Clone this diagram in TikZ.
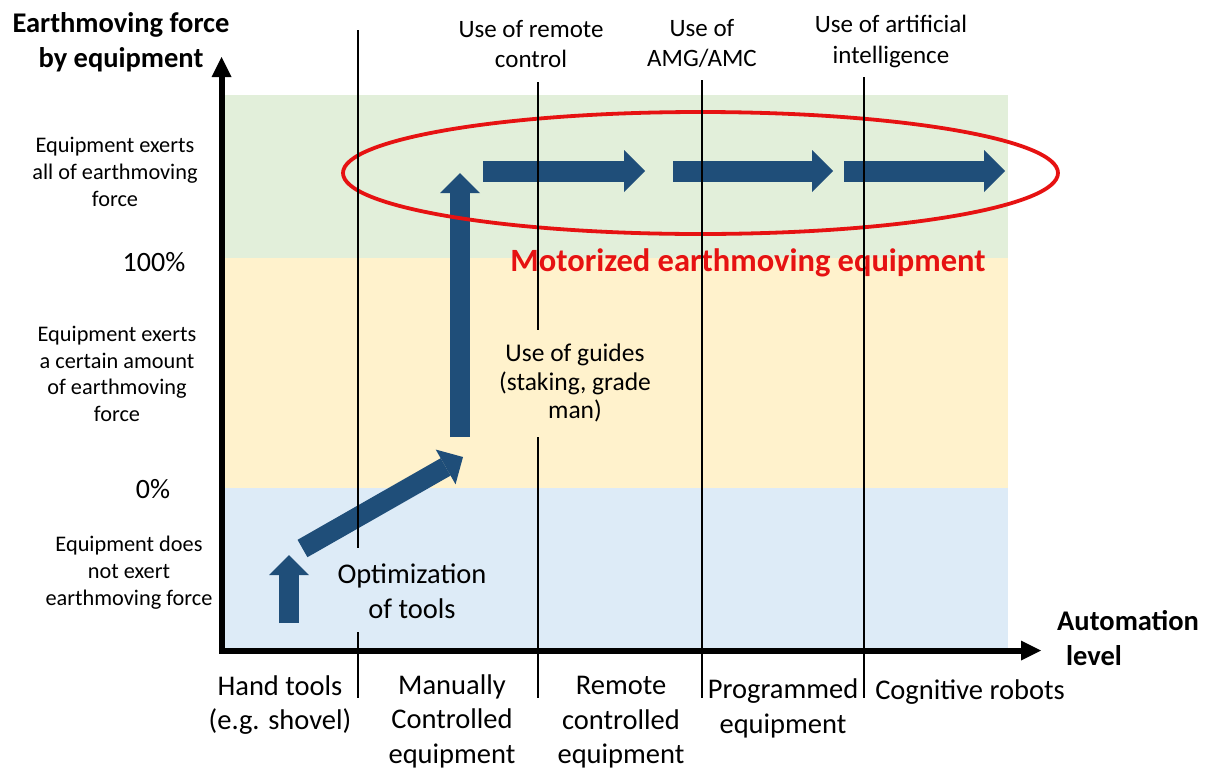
\documentclass[tikz,border=0pt]{standalone}
\usepackage{fontspec}
\setmainfont{Carlito}
\usetikzlibrary{arrows.meta, positioning, shapes.geometric}
\definecolor{bandgreen}{RGB}{226,239,218}
\definecolor{bandyellow}{RGB}{255,242,204}
\definecolor{bandblue}{RGB}{221,235,247}
\definecolor{stepblue}{RGB}{31,78,121}
\definecolor{motorred}{RGB}{230,18,18}

\tikzset{
  axistitle/.style={inner sep=0pt, align=center, font=\fontsize{28.5}{34.5}\selectfont\bfseries},
  levellbl/.style={inner sep=0pt, align=center, font=\fontsize{22.3}{26.7}\selectfont},
  pctlbl/.style={inner sep=0pt, font=\fontsize{28}{34}\selectfont},
  stagelbl/.style={inner sep=0pt, align=center, font=\fontsize{28.5}{34.5}\selectfont},
  techlbl/.style={inner sep=0pt, align=center, font=\fontsize{25}{30.5}\selectfont},
  divider/.style={line width=1.2pt, black},
  smallstep/.style={line width=20pt, draw=stepblue, -{Triangle[length=20pt, width=40pt, line width=0pt]}},
  bigstep/.style={line width=21pt, draw=stepblue, -{Triangle[length=21pt, width=42pt, line width=0pt]}}
}

\begin{document}
\begin{tikzpicture}[x=1pt, y=-1pt]
        \useasboundingbox (0,0) rectangle (1208,769);

        % background bands
        \fill[bandgreen] (225,95) rectangle (1008,258);
        \fill[bandyellow] (225,258) rectangle (1008,488);
        \fill[bandblue] (225,488) rectangle (1008,650);

        % axes
        \coordinate (origin) at (221.5,650.5);
        \coordinate (ytip) at (221.5,57);
        \coordinate (xtip) at (1041,650.5);
        \draw[line width=6pt, {Triangle[length=20pt, width=20pt, line width=0pt]}-{Triangle[length=20pt, width=20pt, line width=0pt]}] (ytip) -- (origin) -- (xtip);

        \node[axistitle] (ytitle) at (121,42) {Earthmoving force\\by equipment};
        \node[axistitle, align=left, anchor=west] (xtitle) at (1057,638) {Automation\\\hspace*{9pt}level};

        % left scale
        \node[levellbl] (all) at (115,172) {Equipment exerts\\all of earthmoving\\force};
        \node[pctlbl] (hundred) at (154,262) {100\%};
        \node[levellbl] (some) at (117,374) {Equipment exerts\\a certain amount\\of earthmoving\\force};
        \node[pctlbl] (zero) at (153,489) {0\%};
        \node[levellbl] (none) at (129,572.5) {Equipment does\\not exert\\earthmoving force};

        % stages along the automation axis
        \node[stagelbl] (hand) at (280,705) {Hand tools\\(e.g. shovel)};
        \node[stagelbl] (manual) at (452,721) {Manually\\Controlled\\equipment};
        \node[stagelbl] (remote) at (621,722.5) {Remote\\controlled\\equipment};
        \node[stagelbl] (program) at (783,708.5) {Programmed\\equipment};
        \node[stagelbl] (cognitive) at (970,692) {Cognitive robots};

        % technologies
        \node[stagelbl] (optim) at (412,591) {Optimization\\of tools};
        \node[techlbl, font=\fontsize{25.5}{28.5}\selectfont] (guides) at (575,383) {Use of guides\\(staking, grade\\man)};
        \node[techlbl] (remctl) at (531,44) {Use of remote\\control};
        \node[techlbl] (amg) at (702,43.5) {Use of\\AMG/AMC};
        \node[techlbl] (ai) at (891,41.5) {Use of artificial\\intelligence};

        % progression
        \coordinate (s1) at (289,623);
        \coordinate (e1) at (289,555);
        \coordinate (s2) at (302.5,548.5);
        \coordinate (e2) at (463,457);
        \coordinate (s3) at (460,437);
        \coordinate (e3) at (460,173);
        \coordinate (s4) at (483,171);
        \coordinate (e4) at (645,171);
        \coordinate (s5) at (673,171);
        \coordinate (e5) at (833,171);
        \coordinate (s6) at (844,171);
        \coordinate (e6) at (1005,171);
        \draw[smallstep] (s1) -- (e1);
        \draw[smallstep] (s2) -- (e2);
        \draw[smallstep] (s3) -- (e3);
        \draw[bigstep] (s4) -- (e4);
        \draw[bigstep] (s5) -- (e5);
        \draw[bigstep] (s6) -- (e6);

        \draw[motorred, line width=3.8pt] (700.5,173) ellipse [x radius=357.5, y radius=61];
        \node[inner sep=0pt, text=motorred, font=\fontsize{32.5}{37}\selectfont\bfseries] (motor) at (748,263) {Motorized earthmoving equipment};

        % stage dividers
        \draw[divider] (358,30) -- (358,548);
        \draw[divider] (358,632) -- (358,698);
        \draw[divider] (538,82) -- (538,330);
        \draw[divider] (538,437) -- (538,698);
        \draw[divider] (702,80) -- (702,698);
        \draw[divider] (864,77) -- (864,698);
\end{tikzpicture}
\end{document}
